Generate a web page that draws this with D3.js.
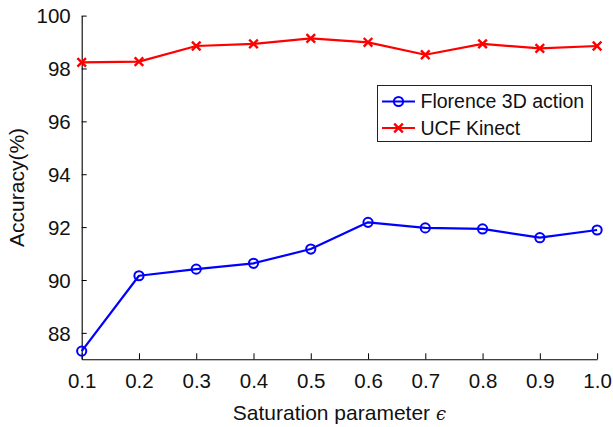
<!DOCTYPE html>
<html>
<head>
<meta charset="utf-8">
<script src="https://cdnjs.cloudflare.com/ajax/libs/d3/7.8.5/d3.min.js"></script>
<style>
  html, body { margin: 0; padding: 0; background: #fff; }
  svg { display: block; font-family: "Liberation Sans", Arial, Helvetica, sans-serif; }
</style>
</head>
<body>
<svg id="chart" width="613" height="427"></svg>
<script>
// Saturation parameter values (x axis)
const epsilon = [0.1, 0.2, 0.3, 0.4, 0.5, 0.6, 0.7, 0.8, 0.9, 1.0];
const xTickLabels = ["0.1", "0.2", "0.3", "0.4", "0.5", "0.6", "0.7", "0.8", "0.9", "1.0"];
const yTicks = [88, 90, 92, 94, 96, 98, 100];

// Accuracy (%) per dataset
const florence3D = [87.31, 90.16, 90.41, 90.63, 91.17, 92.18, 91.97, 91.93, 91.60, 91.89];
const ucfKinect  = [98.23, 98.26, 98.85, 98.93, 99.14, 98.99, 98.52, 98.93, 98.76, 98.85];

const seriesNames = ["Florence 3D action", "UCF Kinect"];
const seriesColors = ["#0000ff", "#ff0000"];
const seriesMarkers = ["circle", "cross"];

const svg = d3.select("#chart");

const x = d3.scaleLinear().domain([0.1, 1.0]).range([81.7, 597.1]);
const y = d3.scaleLinear().domain([87, 100]).range([359.3, 15.6]);

// Axes: MATLAB-style ticks pointing inward
const xAxis = d3.axisBottom(x)
  .tickValues(epsilon)
  .tickFormat((d, i) => xTickLabels[i])
  .tickSizeInner(-6).tickSizeOuter(0).tickPadding(14);
const yAxis = d3.axisLeft(y)
  .tickValues(yTicks)
  .tickSizeInner(-5).tickSizeOuter(0).tickPadding(11);

const gx = svg.append("g").attr("transform", `translate(0,${y(87)})`).call(xAxis);
const gy = svg.append("g").attr("transform", `translate(${x(0.1)},0)`).call(yAxis);

[gx, gy].forEach(g => {
  g.select(".domain").attr("stroke", "#000").attr("stroke-width", 1.1);
  g.selectAll(".tick line").attr("stroke", "#000").attr("stroke-width", 1);
  g.selectAll(".tick text")
    .attr("fill", "#111")
    .style("font-size", "20.5px")
    .style("font-family", "'Liberation Sans', Arial, Helvetica, sans-serif");
});
gx.selectAll(".tick text").attr("dy", "0.71em");
gy.selectAll(".tick text").attr("dy", "0.35em");

// Axis titles
const xTitle = svg.append("text")
  .attr("x", (x(0.1) + x(1.0)) / 2)
  .attr("y", 420)
  .attr("text-anchor", "middle")
  .style("font-size", "21px")
  .attr("fill", "#111");
xTitle.append("tspan").text("Saturation parameter ");
xTitle.append("tspan")
  .style("font-family", "'DejaVu Serif', 'Liberation Serif', serif")
  .style("font-style", "italic")
  .style("font-size", "18px")
  .text("\u03F5");

svg.append("text")
  .attr("transform", `translate(24,${(y(87) + y(100)) / 2}) rotate(-90)`)
  .attr("text-anchor", "middle")
  .style("font-size", "21px")
  .attr("fill", "#111")
  .text("Accuracy(%)");

// Series lines and markers
const allSeries = [florence3D, ucfKinect];
const line = d3.line().x((d, i) => x(epsilon[i])).y(d => y(d));

function drawMarker(g, kind, cx, cy, color) {
  if (kind === "circle") {
    g.append("circle")
      .attr("cx", cx).attr("cy", cy).attr("r", 4.6)
      .attr("fill", "none").attr("stroke", color).attr("stroke-width", 2);
  } else {
    const s = 4.3;
    g.append("path")
      .attr("d", `M${cx - s},${cy - s}L${cx + s},${cy + s}M${cx - s},${cy + s}L${cx + s},${cy - s}`)
      .attr("stroke", color).attr("stroke-width", 2.4).attr("fill", "none");
  }
}

allSeries.forEach((vals, k) => {
  const g = svg.append("g");
  g.append("path")
    .datum(vals)
    .attr("d", line)
    .attr("fill", "none")
    .attr("stroke", seriesColors[k])
    .attr("stroke-width", 2.2)
    .attr("stroke-linejoin", "round");
  vals.forEach((v, i) => drawMarker(g, seriesMarkers[k], x(epsilon[i]), y(v), seriesColors[k]));
});

// Legend
const legend = svg.append("g");
legend.append("rect")
  .attr("x", 377.5).attr("y", 85.5)
  .attr("width", 214).attr("height", 56)
  .attr("fill", "#fff").attr("stroke", "#222").attr("stroke-width", 1);
const rowY = [101.5, 128];
seriesNames.forEach((name, k) => {
  legend.append("line")
    .attr("x1", 382).attr("x2", 415)
    .attr("y1", rowY[k]).attr("y2", rowY[k])
    .attr("stroke", seriesColors[k]).attr("stroke-width", 2.2);
  drawMarker(legend, seriesMarkers[k], 398.5, rowY[k], seriesColors[k]);
  legend.append("text")
    .attr("x", 420.5).attr("y", rowY[k])
    .attr("dy", "0.35em")
    .style("font-size", "19.5px")
    .attr("fill", "#111")
    .text(name);
});
</script>
</body>
</html>
